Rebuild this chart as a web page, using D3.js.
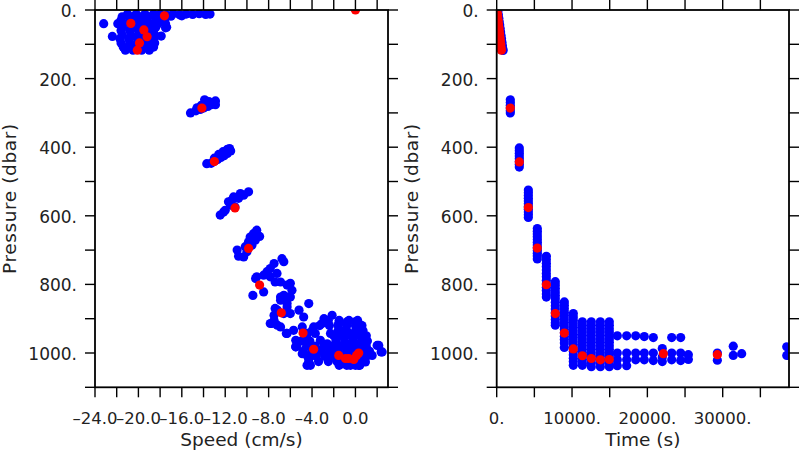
<!DOCTYPE html>
<html><head><meta charset="utf-8">
<script src="https://cdn.jsdelivr.net/npm/d3@7"></script>
<style>
html,body{margin:0;padding:0;background:#fff;}
svg{display:block;}
text{font-family:"DejaVu Sans",sans-serif;fill:#222;}
</style></head>
<body>
<svg id="c" width="800" height="450"></svg>
<script>
// ---------- data ----------
const pressureTicks = [0,100,200,300,400,500,600,700,800,900,1000,1100];
const pressureLabels = ["0.","","200.","","400.","","600.","","800.","","1000.",""];
const speedTicks = [-24,-22,-20,-18,-16,-14,-12,-10,-8,-6,-4,-2,0,2];
const speedLabels = ["\u201324.0","","\u201320.0","","\u201316.0","","\u201312.0","","\u20138.0","","\u20134.0","","0.0",""];
const timeTicks = [0,5000,10000,15000,20000,25000,30000,35000];
const timeLabels = ["0.","","10000.","","20000.","","30000.",""];

// left panel: [speed (cm/s), pressure (dbar)]
const speedBlue = [
 // surface cluster
 [-21.0,12],[-20.2,12],[-19.4,12],[-18.6,12],
 [-21.5,20],[-20.7,20],[-19.9,20],[-19.1,20],[-18.3,20],[-17.6,20],
 [-21.6,30],[-20.8,30],[-20.0,30],[-19.2,30],[-18.4,30],[-17.6,30],
 [-21.4,40],[-20.6,40],[-19.8,40],[-19.0,40],[-18.2,40],[-17.5,40],
 [-21.5,50],[-20.7,50],[-19.9,50],[-19.1,50],[-18.4,50],[-17.5,52],
 [-21.6,60],[-20.8,60],[-20.0,60],[-19.2,60],[-18.6,60],
 [-21.5,72],[-20.7,72],[-19.9,72],[-19.1,72],[-18.5,72],
 [-21.7,84],[-20.9,84],[-20.1,84],[-19.3,84],[-18.6,84],
 [-21.6,96],[-20.8,96],[-20.0,96],[-19.2,96],[-18.5,96],
 [-21.4,108],[-20.6,108],[-19.8,108],[-19.0,108],[-18.6,108],
 [-21.2,117],[-20.5,117],[-19.7,117],[-19.0,117],
 [-23.2,40],[-22.4,77],[-21.9,40],[-17.9,76],[-17.4,50],
 [-18.6,14],[-18.0,12],[-17.4,15],[-16.8,11],[-16.2,14],[-15.6,12],[-15.0,13],[-14.4,11],[-13.8,13],[-13.4,12],[-17.0,18],[-16.0,17],
 // ~280 dbar
 [-15.2,300],[-14.7,294],[-14.3,290],[-14.0,286],[-13.6,281],[-13.3,276],[-13.0,271],[-12.9,265],[-13.5,267],[-13.9,262],[-14.2,278],[-12.9,276],[-14.6,285],
 // ~430 dbar
 [-13.7,448],[-13.3,447],[-13.0,441],[-12.7,436],[-12.4,430],[-12.1,425],[-11.8,418],[-11.5,411],[-11.8,406],[-12.2,413],[-12.6,421],[-13.0,432],[-12.3,420],[-11.6,404],
 // ~560 dbar
 [-12.46,598],[-12.0,584],[-11.7,559],[-11.23,545],[-10.6,535],[-9.85,530],[-11.1,574],[-11.5,569],[-11.4,555],[-10.77,549],[-10.3,540],[-12.15,589],
 // ~680 dbar
 [-10.9,700],[-10.77,718],[-10.3,720],[-10.0,705],[-10.15,690],[-9.85,676],[-9.7,662],[-9.4,652],[-9.1,642],[-8.83,660],[-9.23,671],[-9.54,686],
 // 720 - 900 dbar
 [-6.77,725],[-6.6,734],[-7.5,739],[-7.85,754],[-8.15,763],[-8.46,773],[-9.1,778],[-9.2,783],[-7.85,778],[-7.23,768],[-7.4,793],[-6.9,793],
 [-8.46,822],[-9.45,832],[-6.3,802],[-6.6,832],[-6.9,846],[-6.3,856],[-7.4,870],[-7.5,890],[-7.7,914],[-7.2,919],[-6.37,943],[-6.6,885],[-6.3,837],
 [-6.0,797],[-5.85,817],[-6.9,837],[-6.0,837],[-6.3,866],[-7.2,875],[-6.9,924],[-6.0,885],[-5.2,875],[-4.3,856],[-4.77,895],[-4.9,924],[-5.7,934],
 [-6.3,943],[-5.5,963],[-4.46,943],[-3.85,924],[-3.08,914],[-2.9,900],[-2.15,890],[-1.54,914],[-0.77,909],[0.0,909],[0.46,919],
 [-5.5,982],[-4.46,968],[-4.3,1016],[-4.15,1036],[-3.4,992],[-2.6,1012],[-2.6,973],[-2.3,943],[-1.7,953],[-1.4,982],[-0.77,943],[-0.15,953],
 [0.6,938],[0.77,973],[0.6,1002],[0.92,1026],[0.3,1036],[-0.46,1036],[-1.23,1031],[-1.7,1021],[1.54,1007],[2.0,978],[2.37,997],[-2.0,992],
 [-3.23,963],[-3.7,943],[-0.15,992],[-0.77,982],[0.0,973],[-1.4,934],[-4.9,1002],[-7.85,914],[-7.5,905],[-5.5,982],[-4.46,1036],[2.15,978],[2.46,997],
 // dense near-bottom patch
 [-2.5,905],[-1.5,905],[-0.6,905],[0.2,905],
 [-3.3,920],[-2.4,920],[-1.6,920],[-0.8,920],[0.0,920],[0.6,920],
 [-4.0,935],[-1.6,935],[-0.8,935],[0.0,935],[0.7,935],
 [-4.5,950],[-2.0,950],[-1.2,950],[-0.4,950],[0.4,950],[1.0,950],
 [-5.0,965],[-4.2,965],[-1.8,965],[-1.0,965],[-0.2,965],[0.6,965],[1.1,965],
 [-5.4,980],[-4.5,980],[-3.7,980],[-2.9,980],[-2.1,980],[-1.3,980],[-0.5,980],[0.3,980],[1.0,980],
 [-4.8,995],[-4.0,995],[-3.2,995],[-2.4,995],[-1.6,995],[-0.8,995],[0.0,995],[0.8,995],[1.3,995],
 [-4.4,1010],[-3.6,1010],[-2.8,1010],[-2.0,1010],[-1.2,1010],[-0.4,1010],[0.4,1010],[1.0,1010],
 [-4.3,1025],[-3.4,1025],[-2.5,1025],[-1.7,1025],[-0.9,1025],[-0.1,1025],[0.6,1025],
 [-1.5,1036],[-0.8,1036],[0.0,1036],[0.4,1036]
];
const speedRed = [
 [0.0,0],[-17.6,17],[-20.7,39],[-19.5,58],[-19.2,78],[-19.9,96],[-20.1,117],
 [-14.15,286],[-13.0,442],[-11.1,577],[-9.85,695],[-8.83,802],[-6.83,883],[-4.83,942],[-3.85,989],
 [-1.54,1007],[-0.92,1016],[-0.62,1016],[-0.15,1019],[0.1,1007],[0.3,1000]
];

// right panel: [time (s), pressure (dbar)]
const timeBlue = [
 [150,4],[220,14],[280,24],[340,34],[400,44],[460,54],[520,64],[580,74],[640,84],[700,94],[760,104],[820,114],[850,118],
 [1805,262],[1805,270],[1805,278],[1805,286],[1805,294],[1805,300],
 [3000,402],[3000,410],[3000,418],[3000,426],[3000,434],[3000,442],[3000,450],[3000,458],
 [4200,525],[4200,533],[4200,541],[4200,549],[4200,557],[4200,565],[4200,573],[4200,581],[4200,589],[4200,597],[4200,605],
 [5390,637],[5390,645],[5390,653],[5390,661],[5390,669],[5390,677],[5390,685],[5390,693],[5390,701],[5390,709],[5390,717],[5390,726],
 [6590,718],[6590,728],[6590,738],[6590,748],[6590,758],[6590,768],[6590,778],[6590,788],[6590,798],[6590,808],[6590,818],[6590,828],[6590,837],
 [7780,792],[7780,802],[7780,812],[7780,822],[7780,832],[7780,842],[7780,852],[7780,862],[7780,872],[7780,882],[7780,892],[7780,902],[7780,912],[7780,919],
 [8980,851],[8980,861],[8980,871],[8980,881],[8980,891],[8980,901],[8980,911],[8980,921],[8980,931],[8980,941],[8980,951],[8980,961],[8980,971],[8980,984],
 [10170,885],[10170,895],[10170,905],[10170,915],[10170,925],[10170,935],[10170,945],[10170,955],[10170,965],[10170,975],[10170,985],[10170,995],[10170,1005],[10170,1015],[10170,1025],[10170,1036],
 [11370,909],[11370,919],[11370,929],[11370,939],[11370,949],[11370,959],[11370,969],[11370,979],[11370,989],[11370,999],[11370,1009],[11370,1019],[11370,1029],[11370,1036],
 [12560,909],[12560,919],[12560,929],[12560,939],[12560,949],[12560,959],[12560,969],[12560,979],[12560,989],[12560,999],[12560,1009],[12560,1019],[12560,1029],[12560,1040],
 [13760,909],[13760,919],[13760,929],[13760,939],[13760,949],[13760,959],[13760,969],[13760,979],[13760,989],[13760,999],[13760,1009],[13760,1019],[13760,1029],[13760,1040],
 [14950,909],[14950,919],[14950,929],[14950,939],[14950,949],[14950,959],[14950,969],[14950,979],[14950,989],[14950,999],[14950,1009],[14950,1019],[14950,1029],[14950,1040],
 [16010,950],[16010,1000],[16010,1020],[16010,1037],
 [17250,950],[17250,1000],[17250,1020],[17250,1037],
 [18450,950],[18450,1000],[18450,1020],
 [19590,952],[19590,1000],[19590,1020],
 [20790,955],[20790,1000],[20790,1022],
 [21980,987],[21980,1012],[21980,1025],
 [23230,955],[23230,1000],[23230,1020],
 [24420,955],[24420,1000],[24420,1022],
 [25440,1005],[25440,1019],
 [29290,1000],[29290,1021],
 [31400,980],[31400,1007],[32520,1002],
 [38500,982],[38500,1007]
];
const timeRed = [
 [30,0],[90,10],[140,20],[190,30],[240,40],[290,50],[340,60],[390,70],[440,80],[490,90],[540,100],[590,110],[620,117],
 [1805,286],[3000,443],[4200,576],[5390,694],[6590,801],[7780,885],[8980,942],[10170,988],
 [11370,1008],[12560,1016],[13760,1020],[14950,1019],[22120,1002],[29290,1005]
];

// ---------- drawing ----------
const svg = d3.select("#c");
const yTop = 10, yBot = 387.3;
const yP = d3.scaleLinear().domain([0,1100]).range([yTop, yBot]);
const xS = d3.scaleLinear().domain([-24,3]).range([95,388]);
const xT = d3.scaleLinear().domain([0,38800]).range([496.7,789]);
const R = 4.6;

function panel(id, xScale, xTicks, xLabels, xTitle, yTitleX, blue, red){
  const x0 = xScale.range()[0], x1 = xScale.range()[1];
  const g = svg.append("g");
  svg.append("clipPath").attr("id", id).append("rect")
    .attr("x", x0).attr("y", yTop).attr("width", x1-x0).attr("height", yBot-yTop);
  const pts = g.append("g").attr("clip-path", `url(#${id})`);
  pts.selectAll("circle.b").data(blue).join("circle").attr("class","b")
    .attr("cx", d=>xScale(d[0])).attr("cy", d=>yP(d[1])).attr("r", R).attr("fill","#0000ff");
  pts.selectAll("circle.r").data(red).join("circle").attr("class","r")
    .attr("cx", d=>xScale(d[0])).attr("cy", d=>yP(d[1])).attr("r", R).attr("fill","#ff0000");

  const ax = g.append("g").attr("stroke","#000").attr("stroke-width",1.4).attr("fill","none");
  ax.append("rect").attr("x",x0).attr("y",yTop).attr("width",x1-x0).attr("height",yBot-yTop).attr("stroke-width",1.8);
  xTicks.forEach(t=>{
    const x = xScale(t);
    ax.append("line").attr("x1",x).attr("x2",x).attr("y1",yBot).attr("y2",yBot+10);
    ax.append("line").attr("x1",x).attr("x2",x).attr("y1",yTop).attr("y2",yTop-10);
  });
  pressureTicks.forEach(p=>{
    const y = yP(p);
    ax.append("line").attr("x1",x0-10).attr("x2",x0).attr("y1",y).attr("y2",y);
    ax.append("line").attr("x1",x1).attr("x2",x1+10).attr("y1",y).attr("y2",y);
  });
  xTicks.forEach((t,i)=>{
    if(!xLabels[i]) return;
    g.append("text").attr("x",xScale(t)).attr("y",423.5).attr("text-anchor","middle")
      .attr("font-size",16.5).text(xLabels[i]);
  });
  pressureTicks.forEach((p,i)=>{
    if(!pressureLabels[i]) return;
    g.append("text").attr("x",x0-18).attr("y",yP(p)+7).attr("text-anchor","end")
      .attr("font-size",17).text(pressureLabels[i]);
  });
  g.append("text").attr("x",(x0+x1)/2).attr("y",445.5).attr("text-anchor","middle")
    .attr("font-size",18.5).text(xTitle);
  g.append("text").attr("transform",`translate(${yTitleX},${(yTop+yBot)/2}) rotate(-90)`)
    .attr("text-anchor","middle").attr("font-size",18.5).attr("letter-spacing",0.6).text("Pressure (dbar)");
}
panel("clipL", xS, speedTicks, speedLabels, "Speed (cm/s)", 16, speedBlue, speedRed);
panel("clipR", xT, timeTicks, timeLabels, "Time (s)", 417.5, timeBlue, timeRed);
</script>
</body></html>
